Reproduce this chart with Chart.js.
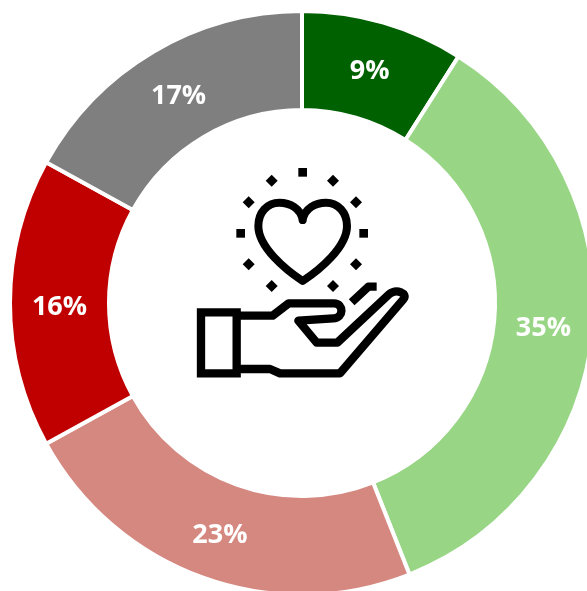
<!DOCTYPE html>
<html>
<head>
<meta charset="utf-8">
<style>
html,body{margin:0;padding:0;background:#fff;width:587px;height:591px;overflow:hidden}
#wrap{position:absolute;left:0;top:0;width:587px;height:591px;overflow:hidden}
canvas{display:block}
</style>
<script src="https://cdn.jsdelivr.net/npm/chart.js@4"></script>
</head>
<body>
<div id="wrap"><canvas id="c" width="604" height="606" style="width:604px;height:606px"></canvas></div>
<script>
const categories = ['A','B','C','D','E'];
const values = [9,35,23,16,17];
const colors = ['#006100','#98D686','#D58880','#C00000','#7F7F7F'];

const iconPlugin = {
  id:'icon',
  afterDraw(chart){
    const ctx = chart.ctx;
    const meta = chart.getDatasetMeta(0);
    const cx = meta.data[0].x, cy = meta.data[0].y;
    ctx.save();
    ctx.translate(cx-122, cy-153);
    ctx.scale(1/3,1/3);
    ctx.strokeStyle='#000'; ctx.fillStyle='#000';
    ctx.lineJoin='round'; ctx.lineCap='round'; ctx.lineWidth=24;
    ctx.stroke(new Path2D('M368 210C362 175 330 158 298 158C262 158 235 187 235 228C235 292 318 360 368 393C418 360 501 292 501 228C501 187 474 158 438 158C406 158 374 175 368 210'));
    ctx.lineJoin='miter'; ctx.lineCap='butt'; ctx.lineWidth=25;
    ctx.stroke(new Path2D('M63 487H170V670H63Z'));
    ctx.lineJoin='round';
    ctx.stroke(new Path2D('M170 497H278L326 460H462C492 460 492 505 460 505L355 512L410 578H472L628 432C650 415 685 430 670 448L480 670H300L270 657H170'));
    ctx.lineCap='butt';
    ctx.stroke(new Path2D('M515 457L565 410H590'));
    const squares=[[368,67],[182,250],[551,250]];
    squares.forEach(p=>ctx.fillRect(p[0]-13,p[1]-13,26,26));
    const diamonds=[[275,92],[459,92],[206,157],[528,157],[206,343],[528,343],[275,408],[459,408]];
    diamonds.forEach(p=>{
      ctx.beginPath();ctx.moveTo(p[0],p[1]-18);ctx.lineTo(p[0]+18,p[1]);
      ctx.lineTo(p[0],p[1]+18);ctx.lineTo(p[0]-18,p[1]);ctx.closePath();ctx.fill();
    });
    ctx.restore();
    ctx.save();
    ctx.fillStyle='#fff';
    ctx.font='bold 27px "Open Sans"';
    ctx.textAlign='center'; ctx.textBaseline='middle';
    const nudgeY=[1,2,4,4,2];
    meta.data.forEach((arc,i)=>{
      const p=arc.getCenterPoint();
      ctx.fillText(values[i]+'%',p.x,p.y+nudgeY[i]);
    });
    ctx.restore();
  }
};

new Chart(document.getElementById('c'),{
  type:'doughnut',
  data:{labels:categories,datasets:[{data:values,backgroundColor:colors,borderColor:'#fff',borderWidth:4,borderAlign:'center'}]},
  options:{
    responsive:false,animation:false,
    cutout:'66.1%',
    layout:{padding:{left:8,right:8,top:9,bottom:9}},
    plugins:{legend:{display:false},tooltip:{enabled:false}}
  },
  plugins:[iconPlugin]
});
</script>
</body>
</html>
